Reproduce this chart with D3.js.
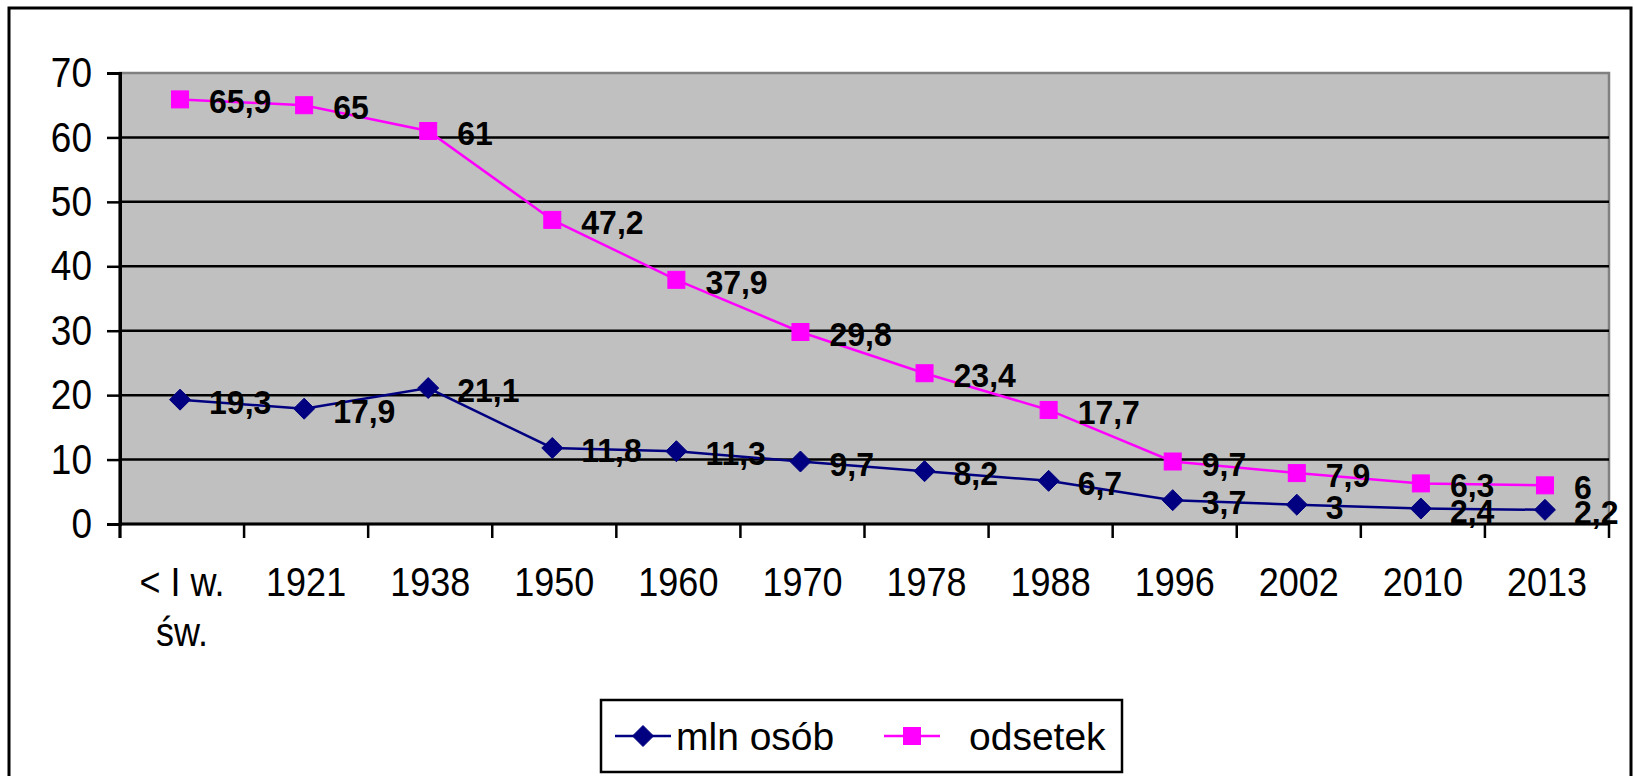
<!DOCTYPE html>
<html>
<head>
<meta charset="utf-8">
<script src="https://cdn.jsdelivr.net/npm/d3@7"></script>
<style>
  html, body { margin: 0; padding: 0; background: #ffffff; }
  svg { display: block; }
  text { font-family: "Liberation Sans", Arial, sans-serif; }
</style>
</head>
<body>
<svg id="chart" width="1634" height="776"></svg>
<script>
// ---- data ----
const categories = ["< I w. św.", "1921", "1938", "1950", "1960", "1970", "1978", "1988", "1996", "2002", "2010", "2013"];
const mlnOsob   = [19.3, 17.9, 21.1, 11.8, 11.3, 9.7, 8.2, 6.7, 3.7, 3.0, 2.4, 2.2];
const odsetek   = [65.9, 65.0, 61.0, 47.2, 37.9, 29.8, 23.4, 17.7, 9.7, 7.9, 6.3, 6.0];
const yTicks    = [0, 10, 20, 30, 40, 50, 60, 70];
const seriesNames = ["mln osób", "odsetek"];

const fmt = v => String(v).replace(".", ",");

const svg = d3.select("#chart");
const plot = { left: 120, right: 1609, top: 73, bottom: 524 };
const Y_FONT = 37, X_FONT = 36, AX_SY = 1.15;
const LBL_FONT = 32, LBL_SY = 1.06;

// outer frame
svg.append("rect")
  .attr("x", 9).attr("y", 8).attr("width", 1622).attr("height", 800)
  .attr("fill", "#ffffff").attr("stroke", "#000").attr("stroke-width", 3);

const x = d3.scaleBand().domain(categories).range([plot.left, plot.right]).paddingInner(0).paddingOuter(0);
const y = d3.scaleLinear().domain([0, 70]).range([plot.bottom, plot.top]);

// plot area
svg.append("rect")
  .attr("x", plot.left).attr("y", plot.top)
  .attr("width", plot.right - plot.left).attr("height", plot.bottom - plot.top)
  .attr("fill", "#c0c0c0").attr("stroke", "#808080").attr("stroke-width", 2.5);

// gridlines
svg.append("g").selectAll("line")
  .data(yTicks.filter(t => t > 0 && t < 70))
  .join("line")
  .attr("x1", plot.left).attr("x2", plot.right)
  .attr("y1", d => y(d)).attr("y2", d => y(d))
  .attr("stroke", "#000").attr("stroke-width", 2.5);

// y axis
const yAxis = svg.append("g")
  .attr("transform", `translate(${plot.left},0)`)
  .call(d3.axisLeft(y).tickValues(yTicks).tickSize(13).tickPadding(15).tickFormat(d => d));
yAxis.select(".domain").attr("stroke", "#000").attr("stroke-width", 3);
yAxis.selectAll(".tick line").attr("stroke", "#000").attr("stroke-width", 2.5);
yAxis.selectAll(".tick text")
  .attr("font-size", Y_FONT).attr("fill", "#000")
  .attr("font-family", "Liberation Sans, Arial, sans-serif")
  .attr("transform", `scale(1,${AX_SY})`);

// x axis labels (wrapped, stretched)
const xLab = svg.append("g");
categories.forEach(c => {
  const g = xLab.append("g").attr("transform", `translate(${x(c) + x.bandwidth() / 2},596)`);
  const words = c.split(" ");
  const probe = g.append("text").attr("font-size", X_FONT);
  let cur = [], lines = [];
  words.forEach(w => {
    cur.push(w);
    probe.text(cur.join(" "));
    if (probe.node().getComputedTextLength() > x.bandwidth() - 10 && cur.length > 1) {
      cur.pop(); lines.push(cur.join(" ")); cur = [w];
    }
  });
  lines.push(cur.join(" "));
  probe.remove();
  lines.forEach((l, i) => {
    g.append("text")
      .attr("transform", `translate(0,${i * 50}) scale(1,${AX_SY})`)
      .attr("text-anchor", "middle")
      .attr("font-size", X_FONT).attr("fill", "#000")
      .text(l);
  });
});

// x axis line + boundary ticks
svg.append("line")
  .attr("x1", plot.left).attr("x2", plot.right)
  .attr("y1", plot.bottom).attr("y2", plot.bottom)
  .attr("stroke", "#000").attr("stroke-width", 3);
const bounds = categories.map(c => x(c)).concat([x.range()[1]]);
svg.append("g").selectAll("line")
  .data(bounds).join("line")
  .attr("x1", d => d).attr("x2", d => d)
  .attr("y1", plot.bottom).attr("y2", plot.bottom + 14)
  .attr("stroke", "#000").attr("stroke-width", 2.5);
svg.append("line")
  .attr("x1", plot.left).attr("x2", plot.left)
  .attr("y1", plot.top).attr("y2", plot.bottom + 14)
  .attr("stroke", "#000").attr("stroke-width", 3);

const cx = c => x(c) + x.bandwidth() / 2 - 2;

const series = [
  { name: seriesNames[0], values: mlnOsob, color: "#000080", shape: "diamond" },
  { name: seriesNames[1], values: odsetek, color: "#ff00ff", shape: "square" }
];

const line = d3.line().x(d => cx(d.c)).y(d => y(d.v));

function drawMarker(g, shape, color, px, py) {
  if (shape === "diamond") {
    g.append("path")
      .attr("d", `M${px},${py - 10.5}L${px + 10.5},${py}L${px},${py + 10.5}L${px - 10.5},${py}Z`)
      .attr("fill", color).attr("stroke", color).attr("stroke-width", 1);
  } else {
    g.append("rect")
      .attr("x", px - 8.5).attr("y", py - 8.5).attr("width", 17).attr("height", 17)
      .attr("fill", color).attr("stroke", color).attr("stroke-width", 1);
  }
}

series.forEach(s => {
  const pts = categories.map((c, i) => ({ c, v: s.values[i] }));
  const g = svg.append("g");
  g.append("path").datum(pts)
    .attr("d", line).attr("fill", "none")
    .attr("stroke", s.color).attr("stroke-width", 2.5);
  pts.forEach(p => drawMarker(g, s.shape, s.color, cx(p.c), y(p.v)));
});

// data labels
series.forEach(s => {
  svg.append("g").selectAll("text")
    .data(categories.map((c, i) => ({ c, v: s.values[i] })))
    .join("text")
    .attr("transform", d => `translate(${cx(d.c) + 29},${y(d.v) + 14}) scale(1,${LBL_SY})`)
    .attr("font-size", LBL_FONT).attr("font-weight", "bold").attr("fill", "#000")
    .text(d => fmt(d.v));
});

// legend
const lg = svg.append("g");
lg.append("rect")
  .attr("x", 601).attr("y", 700).attr("width", 521).attr("height", 72)
  .attr("fill", "#fff").attr("stroke", "#000").attr("stroke-width", 2.5);
const legendPos = [{ l: 615, t: 676 }, { l: 884, t: 969 }];
series.forEach((s, i) => {
  const ly = 736;
  const p = legendPos[i];
  lg.append("line").attr("x1", p.l).attr("x2", p.l + 56)
    .attr("y1", ly).attr("y2", ly).attr("stroke", s.color).attr("stroke-width", 2.5);
  drawMarker(lg, s.shape, s.color, p.l + 28, ly);
  lg.append("text").attr("x", p.t).attr("y", ly + 14)
    .attr("font-size", 39).attr("fill", "#000").text(s.name);
});
</script>
</body>
</html>
